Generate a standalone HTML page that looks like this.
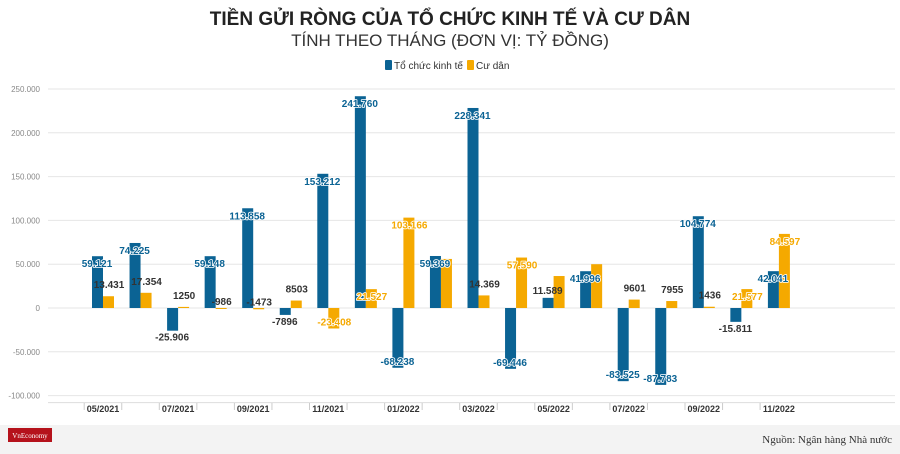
<!DOCTYPE html>
<html><head><meta charset="utf-8"><style>
body{margin:0;width:900px;height:454px;background:#fff;overflow:hidden;font-family:"Liberation Sans",sans-serif}
</style></head><body>
<svg width="900" height="454" style="position:absolute;left:0;top:0">
<text x="450" y="25" text-anchor="middle" font-size="19" font-weight="bold" fill="#222">TIỀN GỬI RÒNG CỦA TỔ CHỨC KINH TẾ VÀ CƯ DÂN</text>
<text x="450" y="46" text-anchor="middle" font-size="17" fill="#333">TÍNH THEO THÁNG (ĐƠN VỊ: TỶ ĐỒNG)</text>
<g>
<rect x="385" y="60" width="7" height="10" rx="1" fill="#0b6394"/>
<text x="394" y="69" font-size="10" fill="#333">Tổ chức kinh tế</text>
<rect x="467" y="60" width="7" height="10" rx="1" fill="#f5a900"/>
<text x="476" y="69" font-size="10" fill="#333">Cư dân</text>
</g>
<g id="grid"></g><g id="bars"></g><g id="labels"></g>
<rect x="0" y="425" width="900" height="29" fill="#f3f3f3"/>
<rect x="8" y="428" width="44" height="14" fill="#b5121b"/>
<text x="30" y="438" text-anchor="middle" font-size="7" fill="#fff" font-family="Liberation Serif,serif">VnEconomy</text>
<text x="892" y="443" text-anchor="end" font-size="11" fill="#333" font-family="Liberation Serif,serif">Nguồn: Ngân hàng Nhà nước</text>
</svg>
<script>
const months=["05/2021","06/2021","07/2021","08/2021","09/2021","10/2021","11/2021","12/2021","01/2022","02/2022","03/2022","04/2022","05/2022","06/2022","07/2022","08/2022","09/2022","10/2022","11/2022"];
const orgValues=[59121,74225,-25906,59148,113858,-7896,153212,241760,-68238,59369,228341,-69446,11589,41996,-83525,-87783,104774,-15811,42041];
const resValues=[13431,17354,1250,-986,-1473,8503,-23408,21527,103166,56000,14369,57590,36500,50000,9601,7955,1436,21577,84597];
const orgLabels=["59.121","74.225","-25.906","59.148","113.858","-7896","153.212","241.760","-68.238","59.369","228.341","-69.446","11.589","41.996","-83.525","-87.783","104.774","-15.811","42.041"];
const resLabels=["13.431","17.354","1250","-986","-1473","8503","-23.408","21.527","103.166","","14.369","57.590","","","9601","7955","1436","21.577","84.597"];
const yTicks=[250000,200000,150000,100000,50000,0,-50000,-100000];
const yTickLabels=["250.000","200.000","150.000","100.000","50.000","0","-50.000","-100.000"];
const NS="http://www.w3.org/2000/svg";
const y=v=>308-v*219/250000;
const x=i=>103+i*37.55;
function mk(tag,attrs,parent,text){const e=document.createElementNS(NS,tag);for(const k in attrs)e.setAttribute(k,attrs[k]);if(text!==undefined)e.textContent=text;document.getElementById(parent).appendChild(e);return e;}
yTicks.forEach((t,i)=>{
 const l=mk("line",{x1:48,x2:895,y1:y(t),y2:y(t),stroke:"#e6e6e6"},"grid");
 
 
 const tx=mk("text",{x:40,y:y(t)+3,"text-anchor":"end","font-size":8,fill:"#888"},"grid",yTickLabels[i]);
 
 
});
mk("line",{x1:48,x2:895,y1:y(-100000)+7,y2:y(-100000)+7,stroke:"#ddd"},"grid");
months.forEach((m,i)=>{
 const t=mk("line",{x1:x(i)-18.8,x2:x(i)-18.8,y1:403,y2:410,stroke:"#ccc"},"grid");
 
 
 if(i%2===0){
  const tx=mk("text",{x:x(i),y:412,"text-anchor":"middle","font-size":9,"font-weight":"bold",fill:"#333"},"grid",m);
  
  
 }
});
function bar(v,cx,col,name){
 const y0=y(0),y1=y(v);
 const r=mk("rect",{x:cx,y:Math.min(y0,y1),width:11,height:Math.max(1,Math.abs(y1-y0)),fill:col},"bars");
 
 
}
function label(txt,cx,yy,col,name){
 if(!txt)return;
 const plain=col==="none";
 const a={x:cx,y:yy,"text-anchor":"middle","font-size":10,"font-weight":"bold",fill:plain?"#333":col};
 if(!plain){a.stroke="#fff";a["stroke-width"]=1.6;a["paint-order"]="stroke";a["stroke-linejoin"]="round";}
 const t=mk("text",a,"labels",txt);
 
 
}
months.forEach((m,i)=>{
 bar(orgValues[i],x(i)-11,"#0b6394","bar-org-"+m);
 bar(resValues[i],x(i),"#f5a900","bar-res-"+m);
});
months.forEach((m,i)=>{
 const o=orgValues[i],r=resValues[i];
 const big=Math.abs(o)>30000;
 label(orgLabels[i],x(i)-6,big?(o>0?y(o)+11:y(o)-3):(o>0?y(o)-4:y(o)+10),big?"#0b6394":"none","label-org-"+m);
 const bigR=Math.abs(r)>20000;
 label(resLabels[i],x(i)+6,bigR?(r>0?y(r)+11:y(r)-3):(r>=0?y(r)-8:y(r)-4),bigR?"#f5a900":"none","label-res-"+m);
});
</script>
</body></html>
